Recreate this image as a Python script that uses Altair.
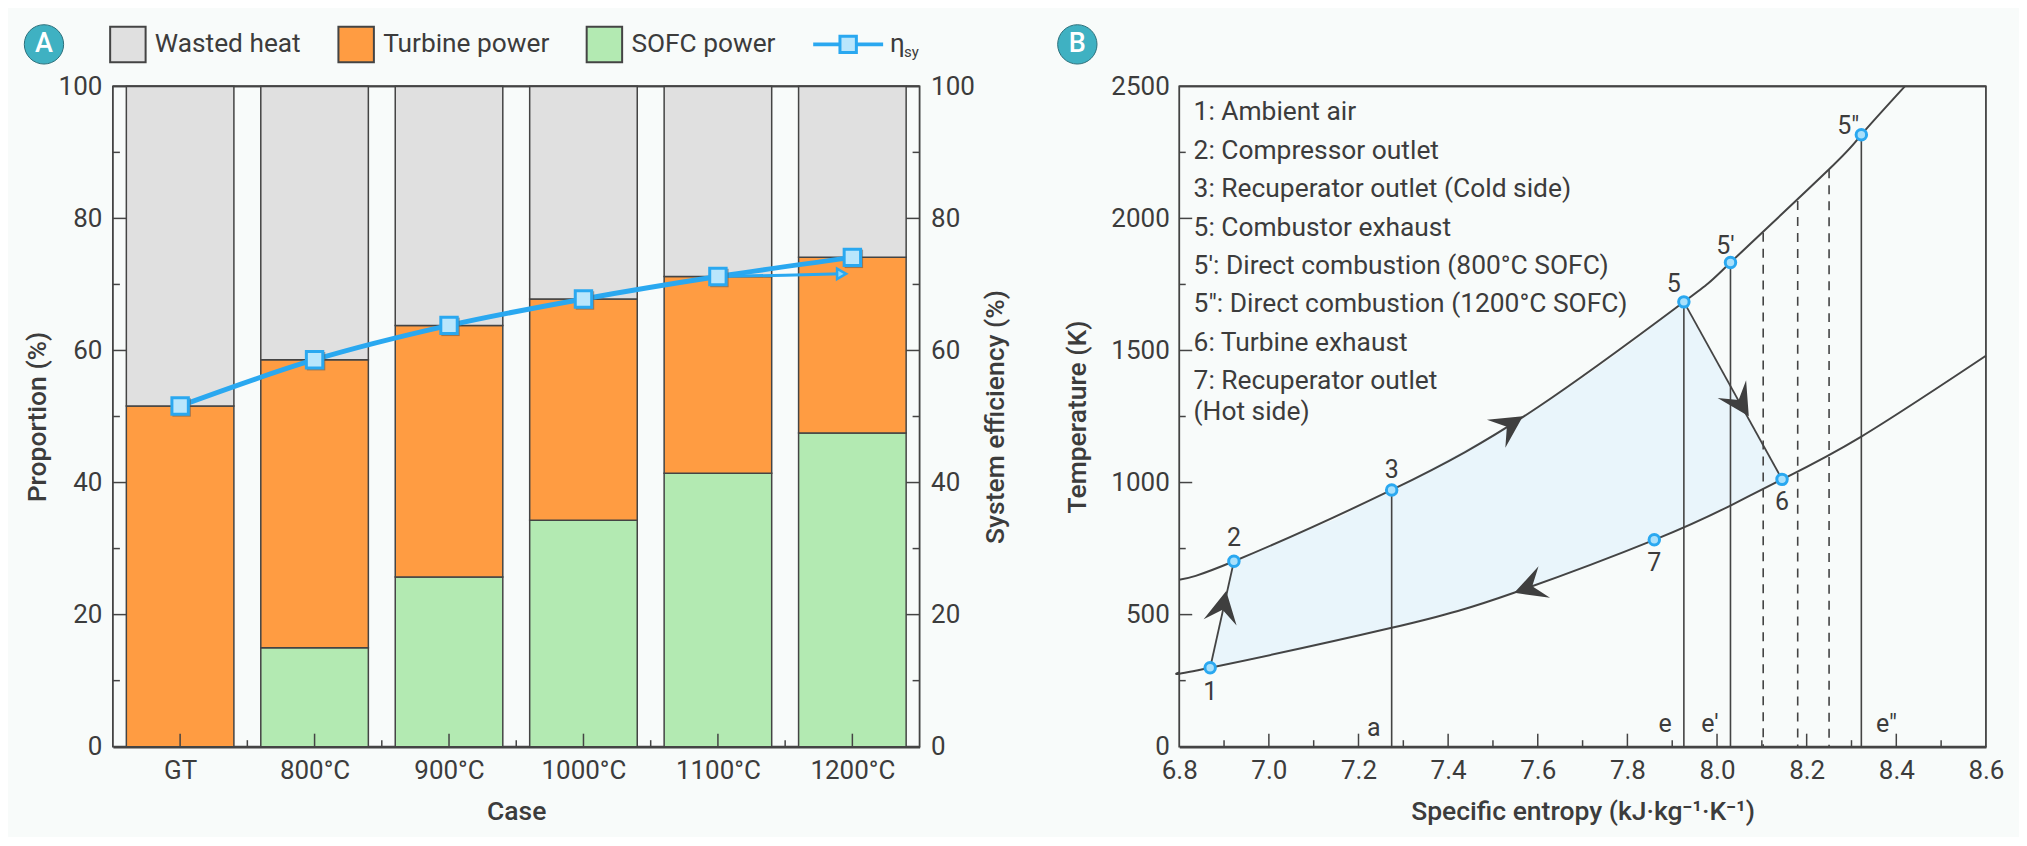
import altair as alt
import pandas as pd

FONT = "Roboto"
INK = "#444444"
TXT = "#3c3c3c"
BG = "#f8fbfa"
BLUE = "#2aa8f0"
LIGHT = "#b9e6fc"
TEAL = "#3fb1c2"

W_A, W_B, H = 807.5, 807.5, 661
FS = 26

# ---------- panel A ----------
cases = ["GT", "800°C", "900°C", "1000°C", "1100°C", "1200°C"]
sofc = [0, 15.0, 25.7, 34.3, 41.4, 47.5]
turbine_top = [51.6, 58.6, 63.8, 67.8, 71.2, 74.1]
eta = [51.6, 58.6, 63.8, 67.8, 71.2, 74.1]
parts = ["Wasted heat", "Turbine power", "SOFC power"]
part_colors = ["#e0e0e0", "#ff9c42", "#b3eab2"]
eta_stray_x = [4, 4.5, 4.92]
eta_stray_y = [71.2, 71.4, 71.6]

rows = []
for i, c in enumerate(cases):
    rows.append(dict(i=i, a=i - .4, b=i + .4, part="SOFC power", y0=0, y1=sofc[i]))
    rows.append(dict(i=i, a=i - .4, b=i + .4, part="Turbine power", y0=sofc[i], y1=turbine_top[i]))
    rows.append(dict(i=i, a=i - .4, b=i + .4, part="Wasted heat", y0=turbine_top[i], y1=100))
bars_df = pd.DataFrame([r for r in rows if r["y1"] > r["y0"]])
eta_df = pd.DataFrame(dict(i=list(range(6)), eta=eta))
stray_df = pd.DataFrame(dict(i=eta_stray_x, eta=eta_stray_y))

xA = alt.Scale(domain=[-.5, 5.5], nice=False, zero=False)
yA = alt.Scale(domain=[0, 100], nice=False)
label_expr = "[" + ",".join(f"'{c}'" for c in cases) + "][datum.value]"

axis_xA = alt.Axis(values=list(range(6)), labelExpr=label_expr, title="Case", ticks=False, grid=False,
                   domainColor=INK, domainWidth=2.5, zindex=2, labelPadding=11, titlePadding=15)
axis_yA = alt.Axis(values=[0, 20, 40, 60, 80, 100], title="Proportion (%)", ticks=False, grid=False,
                   domain=False, labelPadding=11, titlePadding=7)
axis_yA2 = alt.Axis(orient="right", values=[0, 20, 40, 60, 80, 100], title="System efficiency (%)",
                    ticks=False, grid=False, domain=False, labelPadding=11, titlePadding=8,
                    titleAngle=270, titleBaseline="top")

def txt(**k):
    d = dict(font=FONT, fontSize=FS, color=TXT)
    d.update(k)
    return alt.Chart(pd.DataFrame({"k": [0]})).mark_text(**d)

def badge(letter, px, py):
    c = alt.Chart(pd.DataFrame({"k": [0]})).mark_point(
        shape="circle", filled=True, size=1550, fill=TEAL, stroke="#2c6f7a", strokeWidth=1, opacity=1
    ).encode(x=alt.value(px), y=alt.value(py))
    t = txt(text=letter, color="white", fontSize=27, fontWeight=500, align="center", baseline="middle").encode(
        x=alt.value(px), y=alt.value(py))
    return c + t

def vticks(values, scale_x, axis, length):
    df = pd.DataFrame(dict(v=values))
    return alt.Chart(df).mark_rule(color=INK, strokeWidth=1.5).encode(
        x=alt.X("v:Q", scale=scale_x, axis=axis),
        y=alt.value(H), y2=alt.value(H - length))

def hticks(values, scale_y, axis, length, right=None):
    df = pd.DataFrame(dict(v=values))
    x0 = 0 if right is None else right
    x1 = length if right is None else right - length
    return alt.Chart(df).mark_rule(color=INK, strokeWidth=1.5).encode(
        y=alt.Y("v:Q", scale=scale_y, axis=axis),
        x=alt.value(x0), x2=alt.value(x1))

bars = alt.Chart(bars_df).mark_bar(stroke=INK, strokeWidth=1.5, opacity=1).encode(
    x=alt.X("a:Q", scale=xA, axis=axis_xA),
    x2="b:Q",
    y=alt.Y("y0:Q", scale=yA, axis=axis_yA),
    y2="y1:Q",
    color=alt.Color("part:N", scale=alt.Scale(domain=parts, range=part_colors), legend=alt.Legend(
        orient="none", legendX=-4, legendY=-61, direction="horizontal", title=None,
        symbolType="square", symbolSize=1260, symbolStrokeColor=INK, symbolStrokeWidth=2,
        symbolOpacity=1, labelFont=FONT, labelFontSize=FS + .3, labelColor=TXT, columnPadding=32.5,
        labelOffset=8, labelLimit=400)),
)

top_rule = alt.Chart(pd.DataFrame({"k": [0]})).mark_rule(color=INK, strokeWidth=2).encode(
    x=alt.value(0), x2=alt.value(W_A), y=alt.value(0))

left_group = alt.layer(
    bars,
    top_rule,
    vticks(list(range(6)), xA, axis_xA, 13),
    vticks([.5, 1.5, 2.5, 3.5, 4.5], xA, axis_xA, 6.5),
    hticks([20, 40, 60, 80], yA, axis_yA, 13.5),
    hticks([10, 30, 50, 70, 90], yA, axis_yA, 7),
    hticks([20, 40, 60, 80, 100], yA, axis_yA, 13.5, right=W_A),
    hticks([10, 30, 50, 70, 90], yA, axis_yA, 7, right=W_A),
)

eta_x = alt.X("i:Q", scale=xA, axis=axis_xA)
eta_y = alt.Y("eta:Q", scale=yA, axis=axis_yA2)
line_main = alt.Chart(eta_df).mark_line(color=BLUE, strokeWidth=5, interpolate="monotone").encode(x=eta_x, y=eta_y)
line_stray = alt.Chart(stray_df).mark_line(color=BLUE, strokeWidth=3, interpolate="monotone").encode(x=eta_x, y=eta_y)
stray_head = alt.Chart(stray_df.tail(1)).mark_point(
    shape="triangle-right", filled=True, size=110, fill="#8fd8fb", stroke=BLUE, strokeWidth=2.5, opacity=1
).encode(x=eta_x, y=eta_y)
eta_shadow = alt.Chart(eta_df).mark_point(
    shape="square", filled=True, size=340, fill="#555555", opacity=.55, xOffset=1.5, yOffset=1.5
).encode(x=eta_x, y=eta_y)
eta_pts = alt.Chart(eta_df).mark_point(
    shape="square", filled=True, size=270, fill=LIGHT, stroke=BLUE, strokeWidth=3, opacity=1
).encode(x=eta_x, y=eta_y)

right_group = alt.layer(line_main, line_stray, stray_head, eta_shadow, eta_pts)

# legend entry for the efficiency line
leg_y = -42
leg_line = alt.Chart(pd.DataFrame({"k": [0]})).mark_rule(color=BLUE, strokeWidth=4).encode(
    x=alt.value(701), x2=alt.value(771), y=alt.value(leg_y))
leg_sq = alt.Chart(pd.DataFrame({"k": [0]})).mark_point(
    shape="square", filled=True, size=270, fill=LIGHT, stroke=BLUE, strokeWidth=3, opacity=1
).encode(x=alt.value(736), y=alt.value(leg_y))
leg_eta = txt(text="η", align="left", baseline="middle").encode(x=alt.value(778), y=alt.value(leg_y))
leg_sy = txt(text="sy", fontSize=15, align="left", baseline="middle").encode(x=alt.value(792), y=alt.value(leg_y + 8))

panel_a = alt.layer(left_group, right_group).resolve_scale(y="independent")
panel_a = alt.layer(panel_a, leg_line, leg_sq, leg_eta, leg_sy, badge("A", -69, -42)).properties(width=W_A, height=H)

# ---------- panel B ----------
upper_s = [6.8, 6.922, 7.274, 7.6, 7.926, 8.03, 8.25, 8.322, 8.419]
upper_T = [632, 702, 972, 1285, 1684, 1833, 2186, 2317, 2500]
lower_s = [6.8, 6.869, 7.274, 7.547, 7.86, 8.03, 8.145, 8.322, 8.6]
lower_T = [281, 299, 450, 583, 783, 913, 1012, 1174, 1480]
cycle_s = [6.869, 6.922, 7.04, 7.15, 7.274, 7.4, 7.5, 7.6, 7.7, 7.8, 7.926, 8.03, 8.145]
cycle_top = [299, 702, 791, 862, 972, 1088, 1182, 1285, 1396, 1516, 1684, 1365, 1012]
cycle_bot = [299, 315, 355, 397, 450, 507, 558, 612, 673, 738, 828, 913, 1012]
solid_s = [7.274, 7.926, 8.03, 8.322]
solid_T = [972, 1684, 1833, 2317]
dash_s = [8.103, 8.18, 8.25]
dash_T = [1946, 2066, 2186]
state_s = [6.869, 6.922, 7.274, 7.926, 8.03, 8.322, 8.145, 7.86]
state_T = [299, 702, 972, 1684, 1833, 2317, 1012, 783]
state_lab = ["1", "2", "3", "5", "5′", "5″", "6", "7"]
state_dx = [0, 0, 0, -10, -5, -13, 0, 0]
state_dy = [24, -23, -20, -18, -17, -9, 23, 23]
arrow_s = [6.898, 7.537, 7.581, 8.052]
arrow_T = [530, 1218, 603, 1302]
arrow_ang = [11, 56.8, 250, 148]
base_lab = ["a", "e", "e′", "e″"]
base_s = [7.234, 7.884, 7.984, 8.378]
base_T = [72, 87, 87, 87]
notes = ["1: Ambient air", "2: Compressor outlet", "3: Recuperator outlet (Cold side)", "5: Combustor exhaust",
         "5′: Direct combustion (800°C SOFC)", "5″: Direct combustion (1200°C SOFC)", "6: Turbine exhaust",
         "7: Recuperator outlet", "(Hot side)"]
notes_T = [2402, 2256, 2110, 1965, 1820, 1675, 1530, 1383, 1268]

xB = alt.Scale(domain=[6.8, 8.6], nice=False, zero=False)
yB = alt.Scale(domain=[0, 2500], nice=False)

axis_xB = alt.Axis(values=[6.8, 7.0, 7.2, 7.4, 7.6, 7.8, 8.0, 8.2, 8.4, 8.6], format=".1f",
                   title="Specific entropy (kJ·kg⁻¹·K⁻¹)", ticks=False, grid=False, domainColor=INK,
                   domainWidth=2.5, zindex=2, labelPadding=11, titlePadding=15)
axis_yB = alt.Axis(values=[0, 500, 1000, 1500, 2000, 2500], format="d", title="Temperature (K)", ticks=False,
                   grid=False, domain=False, labelPadding=10, titlePadding=19)

X = alt.X("s:Q", scale=xB, axis=axis_xB)
Y = alt.Y("T:Q", scale=yB, axis=axis_yB)

area = alt.Chart(pd.DataFrame(dict(s=cycle_s, t=cycle_top, b=cycle_bot))).mark_area(
    color="#e9f5fb", opacity=1, interpolate="linear"
).encode(x=X, y=alt.Y("t:Q", scale=yB, axis=axis_yB), y2="b:Q")

def curve(ss, tt, w=2):
    return alt.Chart(pd.DataFrame(dict(s=ss, T=tt))).mark_line(color=INK, strokeWidth=w, interpolate="natural").encode(x=X, y=Y)

def straight(ss, tt):
    return alt.Chart(pd.DataFrame(dict(s=ss, T=tt))).mark_line(color=INK, strokeWidth=1.8).encode(x=X, y=Y)

solid = alt.Chart(pd.DataFrame(dict(s=solid_s, T=solid_T))).mark_rule(color=INK, strokeWidth=1.6).encode(
    x=X, y=Y, y2=alt.datum(0))
dashed = alt.Chart(pd.DataFrame(dict(s=dash_s, T=dash_T))).mark_rule(
    color=INK, strokeWidth=1.6, strokeDash=[9, 7]).encode(x=X, y=Y, y2=alt.datum(0))

ARROW = "M0,-1 L1.05,1 L0,0.2 L-1.05,1 Z"
arrows = alt.Chart(pd.DataFrame(dict(s=arrow_s, T=arrow_T, a=arrow_ang))).mark_point(
    shape=ARROW, filled=True, size=1024, fill="#3f3f3f", opacity=1
).encode(x=X, y=Y, angle=alt.Angle("a:Q", scale=None))

state_df = pd.DataFrame(dict(s=state_s, T=state_T, lab=state_lab))
states = alt.Chart(state_df).mark_point(
    shape="circle", filled=True, size=110, fill="#a9e0fb", stroke=BLUE, strokeWidth=3, opacity=1
).encode(x=X, y=Y)

state_labels = []
for s_, t_, l_, dx_, dy_ in zip(state_s, state_T, state_lab, state_dx, state_dy):
    state_labels.append(
        alt.Chart(pd.DataFrame(dict(s=[s_], T=[t_], lab=[l_]))).mark_text(
            font=FONT, fontSize=FS - 1, color=TXT, dx=dx_, dy=dy_, align="center", baseline="middle"
        ).encode(x=X, y=Y, text="lab:N"))

base_text = alt.Chart(pd.DataFrame(dict(s=base_s, T=base_T, lab=base_lab))).mark_text(
    font=FONT, fontSize=FS - 1, color=TXT, align="center", baseline="middle"
).encode(x=X, y=Y, text="lab:N")

notes_text = alt.Chart(pd.DataFrame(dict(s=[6.832] * len(notes), T=notes_T, lab=notes))).mark_text(
    font=FONT, fontSize=FS + .4, color=TXT, align="left", baseline="middle"
).encode(x=X, y=Y, text="lab:N")

top_rule_b = alt.Chart(pd.DataFrame({"k": [0]})).mark_rule(color=INK, strokeWidth=2).encode(
    x=alt.value(0), x2=alt.value(W_B), y=alt.value(0))

panel_b = alt.layer(
    area,
    curve(upper_s, upper_T), curve(lower_s, lower_T),
    straight([6.869, 6.922], [299, 702]), straight([7.926, 8.145], [1684, 1012]),
    solid, dashed, arrows, top_rule_b,
    vticks([7.0, 7.2, 7.4, 7.6, 7.8, 8.0, 8.2, 8.4], xB, axis_xB, 13),
    vticks([6.9, 7.1, 7.3, 7.5, 7.7, 7.9, 8.1, 8.3, 8.5], xB, axis_xB, 6.5),
    hticks([500, 1000, 1500, 2000], yB, axis_yB, 13),
    hticks([250, 750, 1250, 1750, 2250], yB, axis_yB, 6.5),
    states, *state_labels, base_text, notes_text, badge("B", -102, -42),
).properties(width=W_B, height=H)

chart = alt.hconcat(panel_a, panel_b, spacing=259.4, bounds="flush").resolve_scale(color="independent").properties(
    background=BG,
    padding={"left": 13, "top": 13, "right": 14, "bottom": 10},
).configure_view(stroke=INK, strokeWidth=1.8).configure_axis(
    labelFont=FONT, labelFontSize=FS, labelColor=TXT, labelFlush=False, labelOverlap=False,
    titleFont=FONT, titleFontSize=FS + .5, titleFontWeight=500, titleColor=TXT,
)

chart.save("out.html", embed_options={"renderer": "svg", "actions": False})
